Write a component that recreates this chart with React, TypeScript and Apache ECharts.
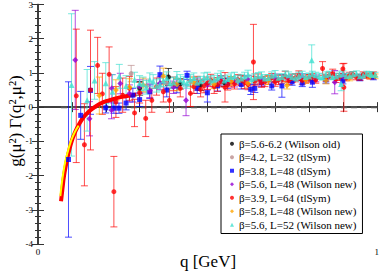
import React, { useEffect, useRef } from "react";
import * as echarts from "echarts";

const FONT = '"Liberation Serif", "Times New Roman", serif';

const seriesNames = [
  "β=5.6-6.2 (Wilson old)",
  "β=4.2, L=32 (tlSym)",
  "β=3.8, L=48 (tlSym)",
  "β=5.6, L=48 (Wilson new)",
  "β=3.9, L=64 (tlSym)",
  "β=5.8, L=48 (Wilson new)",
  "β=5.6, L=52 (Wilson new)",
];
const colors = ["#000000", "#bc8f8f", "#0000ff", "#9400d3", "#ff0000", "#ffa500", "#40e0d0"];
const symbols = ["circle", "circle", "rect", "diamond", "circle", "diamond", "triangle"];
const symbolSizes = [5, 5, 5, 6, 5, 6, 6];

// [q, value, error]
const wilsonOld = [
  [0.3, 0.55, 0.2], [0.385, 0.88, 0.25], [0.42, 0.68, 0.15], [0.48, 0.64, 0.15], [0.55, 0.72, 0.12],
];
const b42L32 = [
  [0.275, 0.98, 0.24], [0.32, 0.62, 0.2], [0.38, 0.7, 0.18], [0.45, 0.75, 0.15], [0.52, 0.72, 0.14],
  [0.6, 0.8, 0.12], [0.7, 0.82, 0.1], [0.8, 0.85, 0.1], [0.9, 0.88, 0.08],
];
const b38L48 = [
  [0.09, -1.53, 2.27], [0.126, -0.24, 0.7], [0.155, 0.49, 0.7], [0.2, -0.02, 0.15], [0.224, -0.03, 0.15],
  [0.239, -0.03, 0.15], [0.26, 0.12, 0.2], [0.28, 0.35, 0.2], [0.3, 0.22, 0.2], [0.33, 0.45, 0.2],
  [0.36, 0.95, 0.25], [0.38, 0.5, 0.2], [0.41, 0.62, 0.2], [0.44, 0.93, 0.12], [0.47, 0.55, 0.15],
  [0.5, 0.42, 0.27], [0.53, 0.62, 0.15], [0.56, 0.7, 0.15], [0.6, 0.66, 0.13], [0.628, 0.52, 0.15],
  [0.64, 0.55, 0.12], [0.66, 0.72, 0.12], [0.69, 0.62, 0.12], [0.72, 0.62, 0.33], [0.75, 0.74, 0.1],
  [0.78, 0.7, 0.1], [0.81, 0.73, 0.15], [0.85, 0.8, 0.1], [0.9, 0.78, 0.1], [0.95, 0.85, 0.08], [0.99, 0.88, 0.08],
];
const b56L48 = [
  [0.11, 1.38, 1.45], [0.152, -0.34, 0.5], [0.217, -0.09, 0.25], [0.218, 0.55, 0.4], [0.243, 0.69, 0.3],
  [0.27, 0.4, 0.25], [0.3, 0.6, 0.2], [0.33, 0.48, 0.2], [0.36, 0.7, 0.18], [0.4, 0.58, 0.18],
  [0.437, 0.2, 0.45], [0.47, 0.7, 0.15], [0.5, 0.65, 0.15], [0.54, 0.78, 0.14], [0.58, 0.72, 0.13],
  [0.62, 0.8, 0.12], [0.66, 0.76, 0.12], [0.7, 0.85, 0.12], [0.74, 0.82, 0.1], [0.78, 0.88, 0.1],
  [0.82, 0.84, 0.1], [0.876, 0.73, 0.34], [0.9, 0.9, 0.09], [0.95, 0.88, 0.08],
];
const b39L64 = [
  [0.113, 0.33, 1.95], [0.137, -1.1, 1.2], [0.155, 0.5, 1.75], [0.176, 1.22, 0.82], [0.19, 0.39, 0.6],
  [0.21, 0.96, 0.8], [0.224, -2.47, 1.03], [0.23, 0.15, 0.45], [0.25, 0.35, 0.5], [0.27, 0.55, 0.35],
  [0.285, -0.17, 0.4], [0.3, 0.42, 0.3], [0.318, -0.33, 0.53], [0.336, 0.2, 0.35], [0.35, 0.6, 0.25],
  [0.37, 0.45, 0.3], [0.388, 0.2, 0.35], [0.4, 0.68, 0.2], [0.42, 0.55, 0.25], [0.45, 0.4, 0.38],
  [0.46, 0.6, 0.2], [0.47, 0.7, 0.2], [0.48, 0.52, 0.22], [0.49, 0.62, 0.2], [0.5, 0.7, 0.18],
  [0.51, 0.78, 0.18], [0.52, 0.6, 0.2], [0.53, 0.66, 0.2], [0.54, 0.75, 0.16], [0.552, 0.58, 0.43],
  [0.56, 0.66, 0.16], [0.57, 0.74, 0.15], [0.58, 0.68, 0.15], [0.59, 0.8, 0.15], [0.6, 0.78, 0.15],
  [0.61, 0.72, 0.18], [0.62, 0.66, 0.15], [0.636, 1.32, 1.1], [0.64, 0.76, 0.14], [0.65, 0.82, 0.15],
  [0.66, 0.72, 0.14], [0.67, 0.75, 0.15], [0.68, 0.8, 0.13], [0.69, 0.86, 0.12], [0.7, 0.74, 0.13],
  [0.71, 0.8, 0.14], [0.72, 0.82, 0.12], [0.73, 0.9, 0.15], [0.74, 0.78, 0.12], [0.75, 0.84, 0.12],
  [0.76, 0.86, 0.12], [0.77, 0.92, 0.14], [0.78, 0.78, 0.11], [0.79, 0.82, 0.12], [0.8, 0.84, 0.11],
  [0.81, 0.88, 0.1], [0.82, 0.8, 0.1], [0.84, 1.13, 0.2], [0.85, 0.86, 0.1], [0.86, 0.92, 0.1],
  [0.87, 0.98, 0.13], [0.88, 0.82, 0.1], [0.89, 0.88, 0.1], [0.9, 1.12, 0.15], [0.903, 0.58, 0.7],
  [0.91, 0.86, 0.09], [0.92, 0.92, 0.1], [0.93, 0.95, 0.09], [0.94, 0.88, 0.08], [0.95, 0.86, 0.08],
  [0.96, 0.95, 0.08], [0.97, 0.92, 0.08], [0.98, 0.9, 0.08], [0.99, 0.95, 0.08],
];
const b58L48 = [
  [0.181, 0.34, 0.54], [0.23, 0.5, 0.3], [0.27, 0.58, 0.25], [0.31, 0.65, 0.2], [0.37, 0.9, 0.24],
  [0.41, 0.66, 0.18], [0.46, 0.72, 0.15], [0.52, 0.68, 0.14], [0.57, 0.76, 0.13], [0.62, 0.7, 0.12],
  [0.68, 0.78, 0.12], [0.735, 0.63, 0.1], [0.79, 0.8, 0.1], [0.85, 0.78, 0.1], [0.92, 0.85, 0.08],
  [0.98, 0.9, 0.07], [0.995, 0.9, 0.07],
];
const b56L52 = [
  [0.099, 0.65, 2.08], [0.145, 0.2, 0.9], [0.167, 0.78, 0.55], [0.2, 0.7, 0.6], [0.22, 0.45, 0.5],
  [0.24, 0.9, 0.35], [0.26, 0.62, 0.3], [0.285, 0.8, 0.22], [0.3, 0.7, 0.22], [0.31, 0.68, 0.2],
  [0.32, 0.58, 0.2], [0.33, 0.8, 0.2], [0.34, 0.75, 0.2], [0.35, 0.62, 0.18], [0.36, 0.66, 0.18],
  [0.37, 0.78, 0.18], [0.38, 0.85, 0.18], [0.39, 0.7, 0.16], [0.4, 0.72, 0.16], [0.41, 0.88, 0.16],
  [0.42, 0.8, 0.15], [0.43, 0.74, 0.15], [0.44, 0.7, 0.15], [0.45, 0.8, 0.15], [0.46, 0.85, 0.15],
  [0.47, 0.72, 0.14], [0.48, 0.76, 0.14], [0.49, 0.86, 0.14], [0.5, 0.88, 0.14], [0.51, 0.78, 0.13],
  [0.52, 0.8, 0.13], [0.53, 0.86, 0.13], [0.54, 0.92, 0.14], [0.55, 0.78, 0.13], [0.56, 0.82, 0.12],
  [0.57, 0.88, 0.12], [0.58, 0.9, 0.12], [0.59, 0.8, 0.12], [0.6, 0.84, 0.12], [0.61, 0.9, 0.12],
  [0.62, 0.95, 0.13], [0.63, 0.82, 0.12], [0.64, 0.86, 0.12], [0.65, 0.9, 0.11], [0.66, 0.92, 0.11],
  [0.67, 0.84, 0.11], [0.68, 0.85, 0.1], [0.69, 0.92, 0.11], [0.7, 0.95, 0.12], [0.71, 0.86, 0.1],
  [0.72, 0.88, 0.1], [0.73, 0.96, 0.1], [0.74, 0.93, 0.1], [0.75, 0.88, 0.1], [0.76, 0.86, 0.1],
  [0.77, 0.92, 0.1], [0.78, 0.95, 0.1], [0.79, 0.88, 0.1], [0.8, 0.9, 0.1], [0.808, 1.37, 0.45],
  [0.81, 0.96, 0.09], [0.82, 0.93, 0.09], [0.83, 0.9, 0.09], [0.84, 0.88, 0.09], [0.85, 0.94, 0.09],
  [0.86, 0.96, 0.09], [0.87, 0.88, 0.08], [0.88, 0.9, 0.08], [0.89, 0.95, 0.08], [0.895, 0.68, 0.2],
  [0.9, 0.97, 0.09], [0.91, 0.9, 0.08], [0.92, 0.92, 0.08], [0.93, 0.96, 0.08], [0.94, 0.98, 0.08],
  [0.95, 0.9, 0.07], [0.96, 0.93, 0.07], [0.97, 0.98, 0.07], [0.98, 0.97, 0.07], [0.985, 0.94, 0.07],
  [0.995, 0.95, 0.07],
];
const allData = [wilsonOld, b42L32, b38L48, b56L48, b39L64, b58L48, b56L52];

// fitted curves
const redFit = [
  [0.068, -2.75], [0.072, -2.4], [0.077, -2.0], [0.083, -1.67], [0.09, -1.35], [0.1, -0.98],
  [0.11, -0.72], [0.12, -0.52], [0.135, -0.29], [0.15, -0.13], [0.17, 0.02], [0.19, 0.13],
  [0.21, 0.2], [0.235, 0.27], [0.26, 0.32], [0.29, 0.37],
];
const yellowFit = [
  [0.066, -2.6], [0.07, -2.25], [0.075, -1.9], [0.08, -1.62], [0.088, -1.3], [0.097, -1.0],
  [0.108, -0.74], [0.12, -0.54],
];
const zeroLine = [[0.068, 0], [1.0, 0]];

const xTicks = ["0", "1"];
const yTickMin = -4;
const yTickMax = 3;

export default function App() {
  const ref = useRef<HTMLDivElement>(null);
  useEffect(() => {
    if (!ref.current) return;
    const chart = echarts.init(ref.current, undefined, { renderer: "svg" });

    const errSeries = allData.map((d, i) => ({
      type: "custom",
      name: seriesNames[i] + " err",
      data: d,
      z: 2,
      encode: { x: 0, y: 1 },
      renderItem: (_p: any, api: any) => {
        const x = api.value(0);
        const y = api.value(1);
        const e = api.value(2);
        const t = api.coord([x, y + e]);
        const b = api.coord([x, y - e]);
        const w = 3.5;
        const style = { stroke: colors[i], lineWidth: 1, opacity: 0.7 };
        return {
          type: "group",
          children: [
            { type: "line", shape: { x1: t[0], y1: t[1], x2: b[0], y2: b[1] }, style },
            { type: "line", shape: { x1: t[0] - w, y1: t[1], x2: t[0] + w, y2: t[1] }, style },
            { type: "line", shape: { x1: b[0] - w, y1: b[1], x2: b[0] + w, y2: b[1] }, style },
          ],
        };
      },
    }));

    const pointSeries = allData.map((d, i) => ({
      type: "scatter",
      name: seriesNames[i],
      data: d.map((p) => [p[0], p[1]]),
      symbol: symbols[i],
      symbolSize: symbolSizes[i],
      itemStyle: { color: colors[i] },
      z: 5,
    }));

    const axisLine = { lineStyle: { color: "#333", width: 1.5 } };

    chart.setOption({
      animation: false,
      grid: { left: 38, right: 4, top: 4, bottom: 30 },
      legend: {
        data: seriesNames.map((n, i) => ({ name: n, icon: symbols[i] })),
        orient: "vertical",
        left: 221,
        top: 134,
        padding: [3, 6, 2, 9],
        itemWidth: 4,
        itemHeight: 4,
        itemGap: 0,
        itemTextGap: 4,
        backgroundColor: "#fff",
        borderColor: "#000",
        borderWidth: 1,
        borderRadius: 0,
        selectedMode: false,
        textStyle: { fontFamily: FONT, fontSize: 11, color: "#000", lineHeight: 13.5 },
      },
      xAxis: [
        {
          type: "value",
          min: 0,
          max: 1,
          interval: 0.1,
          position: "bottom",
          axisLine,
          axisTick: { inside: true, length: 5, lineStyle: { color: "#333" } },
          axisLabel: {
            fontFamily: FONT,
            fontSize: 9,
            color: "#000",
            margin: 3,
            formatter: (v: number) =>
              Math.abs(v) < 1e-6 ? xTicks[0] : Math.abs(v - 1) < 1e-6 ? xTicks[1] : "",
          },
          splitLine: { show: false },
        },
        {
          type: "value",
          min: 0,
          max: 1,
          interval: 0.1,
          position: "top",
          axisLine,
          axisTick: { inside: true, length: 5, lineStyle: { color: "#333" } },
          axisLabel: { show: false },
          splitLine: { show: false },
        },
      ],
      yAxis: [
        {
          type: "value",
          min: yTickMin,
          max: yTickMax,
          interval: 1,
          position: "left",
          axisLine,
          axisTick: { inside: true, length: 6, lineStyle: { color: "#333" } },
          minorTick: { show: true, splitNumber: 5, length: 3, lineStyle: { color: "#333" } },
          axisLabel: { fontFamily: FONT, fontSize: 9, color: "#000", margin: 5 },
          splitLine: { show: false },
          minorSplitLine: { show: false },
        },
        {
          type: "value",
          min: yTickMin,
          max: yTickMax,
          interval: 1,
          position: "right",
          axisLine,
          axisTick: { inside: true, length: 6, lineStyle: { color: "#333" } },
          minorTick: { show: true, splitNumber: 5, length: 3, lineStyle: { color: "#333" } },
          axisLabel: { show: false },
          splitLine: { show: false },
          minorSplitLine: { show: false },
        },
      ],
      graphic: [
        {
          type: "text",
          x: 208,
          y: 261,
          style: { text: "q [GeV]", fontFamily: FONT, fontSize: 17, fill: "#000", align: "center", verticalAlign: "middle" },
        },
        {
          type: "text",
          x: 15,
          y: 121,
          rotation: Math.PI / 2,
          style: {
            text: "g(μ²) Γ(q²,μ²)",
            fontFamily: FONT,
            fontSize: 17,
            fill: "#000",
            align: "center",
            verticalAlign: "middle",
          },
        },
      ],
      series: [
        {
          type: "line",
          data: zeroLine,
          showSymbol: false,
          z: 1,
          lineStyle: { color: "#555", width: 2, type: [6, 4] },
        },
        ...errSeries,
        {
          type: "line",
          data: redFit,
          showSymbol: false,
          smooth: true,
          z: 3,
          lineStyle: { color: "#ff0000", width: 4 },
        },
        {
          type: "line",
          data: yellowFit,
          showSymbol: false,
          smooth: true,
          z: 4,
          lineStyle: { color: "#ffff00", width: 2 },
        },
        ...pointSeries,
      ],
    });
    return () => chart.dispose();
  }, []);
  return <div ref={ref} style={{ width: 382, height: 274, position: "absolute", left: 0, top: 0 }} />;
}
